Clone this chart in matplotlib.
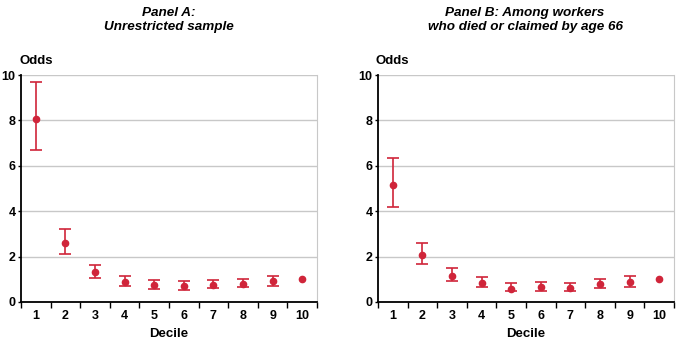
import matplotlib
matplotlib.use("Agg")
import matplotlib.pyplot as plt
import numpy as np

deciles = ["1", "2", "3", "4", "5", "6", "7", "8", "9", "10"]

a_odds = [8.06, 2.61, 1.31, 0.90, 0.75, 0.70, 0.75, 0.79, 0.91, 1.00]
a_upper = [9.69, 3.20, 1.63, 1.13, 0.95, 0.93, 0.98, 1.03, 1.15, 1.00]
a_lower = [6.68, 2.13, 1.04, 0.69, 0.59, 0.54, 0.60, 0.65, 0.72, 1.00]

b_odds = [5.14, 2.07, 1.15, 0.85, 0.59, 0.66, 0.63, 0.78, 0.88, 1.00]
b_upper = [6.34, 2.58, 1.48, 1.10, 0.82, 0.90, 0.85, 1.01, 1.15, 1.00]
b_lower = [4.18, 1.66, 0.91, 0.65, 0.47, 0.50, 0.47, 0.60, 0.66, 1.00]

titles = ["Panel A:\nUnrestricted sample", "Panel B: Among workers\nwho died or claimed by age 66"]

RED = "#d0253a"
plt.rcParams['font.family'] = ['Liberation Sans', 'DejaVu Sans']

W, H = 680, 342
fig = plt.figure(figsize=(W / 100, H / 100), dpi=100)

def px(x0, y0, x1, y1):
    return [x0 / W, 1 - y1 / H, (x1 - x0) / W, (y1 - y0) / H]

axes_px = [(21, 75, 317, 302), (378, 75, 674, 302)]
title_cx = [169, 525]
data = [(a_odds, a_upper, a_lower), (b_odds, b_upper, b_lower)]

for i in range(2):
    ax = fig.add_axes(px(*axes_px[i]))
    odds, up, lo = data[i]
    x = np.arange(1, len(deciles) + 1)
    odds = np.array(odds); up = np.array(up); lo = np.array(lo)
    n = len(deciles) - 1
    ax.errorbar(x[:n], odds[:n], yerr=[odds[:n] - lo[:n], up[:n] - odds[:n]],
                fmt='o', color=RED, ms=4.5, capsize=4.5, elinewidth=1.2,
                capthick=1.2, zorder=3)
    ax.plot(x[n:], odds[n:], 'o', color=RED, ms=4.5, zorder=3)
    ax.set_xlim(0.5, 10.5)
    ax.set_ylim(0, 10)
    ax.set_yticks([0, 2, 4, 6, 8, 10])
    ax.set_xticks(x)
    ax.set_xticklabels(deciles)
    ax.set_xticks(np.arange(0.5, 11, 1), minor=True)
    ax.tick_params(axis='x', which='major', length=0, pad=6, labelsize=9)
    ax.tick_params(axis='x', which='minor', length=4, width=1, direction='out')
    ax.tick_params(axis='y', length=2.5, width=1, pad=1.5, labelsize=9)
    for lab in ax.get_xticklabels() + ax.get_yticklabels():
        lab.set_fontweight('bold')
    ax.grid(axis='y', color='#c8c8c8', lw=1)
    ax.set_axisbelow(True)
    ax.spines['top'].set_visible(False)
    ax.spines['right'].set_color('#c8c8c8')
    ax.spines['left'].set_linewidth(1.3)
    ax.spines['bottom'].set_linewidth(1.3)
    ax.set_xlabel("Decile", fontsize=9.5, fontweight='bold', labelpad=4)
    fig.text((axes_px[i][0] - 2) / W, 1 - 61 / H, "Odds", fontsize=9.5,
             fontweight='bold', va='center', ha='left')
    fig.text(title_cx[i] / W, 1 - 20 / H, titles[i], fontsize=9.7,
             fontweight='bold', style='italic', ha='center', va='center',
             linespacing=1.3)

fig.savefig("out.png", dpi=100)
